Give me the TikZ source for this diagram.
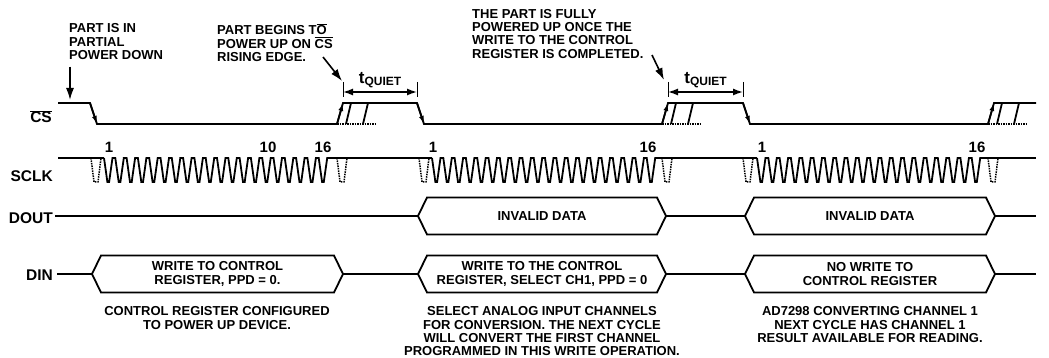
\documentclass[tikz,border=0pt]{standalone}
\usepackage{fontspec}
\setmainfont{Liberation Sans}
\usetikzlibrary{arrows.meta}

\tikzset{
    wave/.style={line width=1.8pt, line join=miter},
    ghost/.style={line width=1.5pt, densely dotted},
    note/.style={font=\bfseries\fontsize{13}{13.3}\selectfont, align=center, inner sep=0pt},
    sig/.style={font=\bfseries\fontsize{15.5}{16}\selectfont, anchor=base east, inner sep=0pt},
    cnt/.style={font=\bfseries\fontsize{15}{15}\selectfont, anchor=base, inner sep=0pt},
    pointer/.style={line width=1.6pt, -{Latex[length=12pt,width=8pt]}},
    edgetip/.style={line width=1.6pt, -{Latex[length=8pt,width=5pt]}},
    quiet/.style={line width=1.4pt, {Latex[length=10pt,width=7pt]}-{Latex[length=10pt,width=7pt]}}
}

\begin{document}
\begin{tikzpicture}[x=1pt,y=-1pt]
    \useasboundingbox (0,0) rectangle (1049,358);

    % signal names
    \node[sig] (cs) at (52,123) {$\overline{\hbox{CS}}$};
    \node[sig] (sclk) at (53,182) {SCLK};
    \node[sig] (dout) at (53,223) {DOUT};
    \node[sig] (din) at (53,280) {DIN};

    % CS
    \draw[wave] (58,103) -- (90,103) -- (97,124) -- (337,124) -- (343,103) -- (417,103)
        -- (424,124) -- (662,124) -- (668,103) -- (743,103) -- (750,124) -- (988,124)
        -- (994,103) -- (1036,103);
    \foreach \a/\b in {90/97, 417/424, 743/750}
        \draw[edgetip] (\a,103) -- (\b,124);
    \foreach \r in {337,662,988} {
        \draw[edgetip] (\r,124) -- ({\r+6},103);
        \draw[ghost] (\r,124) -- ({\r+38},124);
        \draw[wave] ({\r+9},124) -- ({\r+14},103);
        \draw[wave] ({\r+26},124) -- ({\r+31},103);
    }

    % t_quiet
    \foreach \p/\q/\nm in {343/417/tqa, 668/743/tqb} {
        \coordinate (\nm l) at (\p,92);
        \coordinate (\nm r) at (\q,92);
        \draw[line width=0.9pt] (\p,82) -- (\p,97) (\q,82) -- (\q,97);
        \draw[quiet] (\nm l) -- (\nm r);
        \node[inner sep=0pt, anchor=base, font=\bfseries\fontsize{17}{17}\selectfont] (\nm)
            at ({(\p+\q)/2},84) {t\raisebox{-1.5pt}{\fontsize{12}{12}\selectfont QUIET}};
    }

    % SCLK
    \foreach \a/\b in {58/104, 330/432, 658/757, 983/1036}
        \draw[wave] (\a,158) -- (\b,158);
    \foreach \s in {104,432,757}
        \draw[wave] (\s,158) \foreach \i in {1,...,20} { -- ++(3.4,24) -- ++(1.7,0) -- ++(3.4,-24) -- ++(2.8,0) };
    \foreach \d in {91,337,419,662,743,988}
        \draw[ghost] (\d,158) -- ++(3,24) -- ++(4,0) -- ++(3,-24);
    \foreach \x/\t/\nm in {109/1/ka, 268/10/kb, 323/16/kc, 433/1/kd, 648/16/ke, 762/1/kf, 977/16/kg}
        \node[cnt] (\nm) at (\x,153) {\t};

    % DOUT and DIN
    \draw[wave] (55,216) -- (418,216) (666,216) -- (745,216) (995,216) -- (1036,216);
    \draw[wave] (57,274) -- (92,274) (343,274) -- (418,274) (666,274) -- (745,274) (995,274) -- (1036,274);
    \foreach \xa/\xb/\yc/\nm/\txt in {
            418/666/216/busa/{INVALID DATA},
            745/995/216/busb/{INVALID DATA},
            92/343/274/busc/{WRITE TO CONTROL\\REGISTER, PPD = 0.},
            418/666/274/busd/{WRITE TO THE CONTROL\\REGISTER, SELECT CH1, PPD = 0},
            745/995/274/buse/{NO WRITE TO\\CONTROL REGISTER}} {
        \draw[wave] (\xa,\yc) -- ({\xa+9},{\yc-18.5}) -- ({\xb-9},{\yc-18.5}) -- (\xb,\yc)
            -- ({\xb-9},{\yc+18.5}) -- ({\xa+9},{\yc+18.5}) -- cycle;
        \node[note] (\nm) at ({(\xa+\xb)/2},\yc) {\txt};
    }

    % notes above
    \node[note, align=left, anchor=north west] (down) at (69,23.5) {PART IS IN\\PARTIAL\\POWER DOWN};
    \node[note, align=left, anchor=north west] (begin) at (217,23.5)
        {PART BEGINS T$\overline{\hbox{O}}$\\POWER UP ON $\overline{\hbox{CS}}$\\RISING EDGE.};
    \node[note, align=left, anchor=north west] (full) at (472,9)
        {THE PART IS FULLY\\POWERED UP ONCE THE\\WRITE TO THE CONTROL\\REGISTER IS COMPLETED.};
    \coordinate (downtip) at (70,100);
    \coordinate (begintail) at (323,57);
    \coordinate (begintip) at (342,81);
    \coordinate (fulltail) at (652,55);
    \coordinate (fulltip) at (664,80);
    \draw[pointer] ([xshift=1pt,yshift=-7pt]down.south west) -- (downtip);
    \draw[pointer] (begintail) -- (begintip);
    \draw[pointer] (fulltail) -- (fulltip);

    % notes below
    \node[note, anchor=north] (cfg) at (217,306.5) {CONTROL REGISTER CONFIGURED\\TO POWER UP DEVICE.};
    \node[note, anchor=north] (sel) at (542,306.5)
        {SELECT ANALOG INPUT CHANNELS\\FOR CONVERSION. THE NEXT CYCLE\\WILL CONVERT THE FIRST CHANNEL\\PROGRAMMED IN THIS WRITE OPERATION.};
    \node[note, anchor=north] (conv) at (870,306.5)
        {AD7298 CONVERTING CHANNEL 1\\NEXT CYCLE HAS CHANNEL 1\\RESULT AVAILABLE FOR READING.};
\end{tikzpicture}
\end{document}
